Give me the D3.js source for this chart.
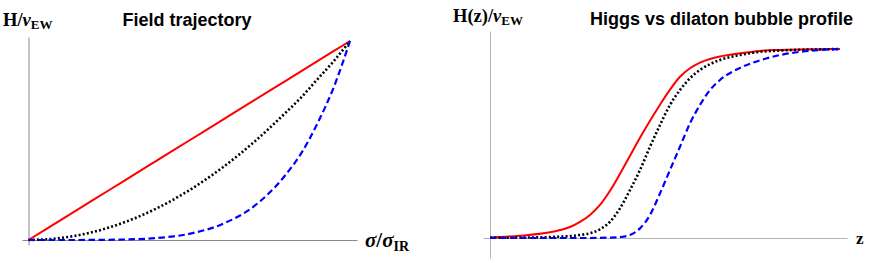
<!DOCTYPE html>
<html><head><meta charset="utf-8">
<script src="https://cdn.jsdelivr.net/npm/d3@7"></script>
<style>body{margin:0;background:#fff}svg{display:block}</style>
</head><body>
<svg id="c" width="872" height="263"></svg>
<script>
// ---- Left panel: field trajectory (sigma/sigma_IR vs H/v_EW)
const sigmaVals = [0, 0.1, 0.2, 0.3, 0.4, 0.5, 0.6, 0.7, 0.8, 0.85, 0.9, 0.95, 1.0];
const trajRed   = [0, 0.1, 0.2, 0.3, 0.4, 0.5, 0.6, 0.7, 0.8, 0.85, 0.9, 0.95, 1.0];
const trajBlack = [0, 0.01, 0.04, 0.09, 0.16, 0.25, 0.36, 0.49, 0.64, 0.72, 0.81, 0.90, 1.0];
const trajBlue  = [0, 0.0, 0.0004, 0.0025, 0.01, 0.031, 0.078, 0.168, 0.328, 0.44, 0.59, 0.77, 1.0];

// ---- Right panel: bubble profile H(z)/v_EW vs z
const zVals        = [0, 3, 6, 7, 8, 9, 10, 11, 12, 13, 14, 15, 16, 17, 18, 19, 20, 21, 22, 23, 25, 27, 29, 31, 33, 35];
const profileRed   = [0.004, 0.012, 0.03, 0.042, 0.058, 0.085, 0.122, 0.175, 0.25, 0.34, 0.435, 0.53, 0.62, 0.705, 0.785, 0.853, 0.898, 0.928, 0.947, 0.96, 0.977, 0.99, 0.995, 0.998, 0.999, 1.0];
const profileBlack = [0.001, 0.002, 0.005, 0.007, 0.01, 0.016, 0.025, 0.046, 0.086, 0.157, 0.254, 0.36, 0.483, 0.598, 0.704, 0.783, 0.845, 0.889, 0.92, 0.942, 0.968, 0.985, 0.992, 0.996, 0.998, 1.0];
const profileBlue  = [0, 0, 0, 0, 0, 0, 0, 0.001, 0.002, 0.005, 0.016, 0.051, 0.122, 0.236, 0.36, 0.483, 0.607, 0.704, 0.783, 0.836, 0.90, 0.94, 0.968, 0.985, 0.995, 1.0];

const svg = d3.select("#c");

const styles = {
  red:   {stroke: "#ff0000", width: 2, dash: null},
  black: {stroke: "#000000", width: 2.6, dash: "2,2.2"},
  blue:  {stroke: "#0000ff", width: 2.2, dash: "6.5,3.5"}
};

function drawLines(g, xs, series, x, y) {
  series.forEach(([vals, st]) => {
    const data = xs.map((v, i) => [v, vals[i]]);
    g.append("path")
      .attr("d", d3.line().x(d => x(d[0])).y(d => y(d[1])).curve(d3.curveMonotoneX)(data))
      .attr("fill", "none")
      .attr("stroke", st.stroke)
      .attr("stroke-width", st.width)
      .attr("stroke-dasharray", st.dash);
  });
}

// Left scales
const xL = d3.scaleLinear().domain([0, 1]).range([28.5, 350]);
const yL = d3.scaleLinear().domain([0, 1]).range([240, 41]);
const gL = svg.append("g");
const xLA = d3.scaleLinear().domain([xL.invert(22), xL.invert(357)]).range([22, 357]);
const yLA = d3.scaleLinear().domain([yL.invert(245), yL.invert(37)]).range([245, 37]);
gL.append("g").attr("transform", `translate(0,${yL(0)})`)
  .call(d3.axisBottom(xLA).tickValues([]).tickSizeOuter(0))
  .select(".domain").attr("stroke", "#8a8a8a").attr("stroke-width", 1);
gL.append("g").attr("transform", `translate(${xL(0)},0)`)
  .call(d3.axisLeft(yLA).tickValues([]).tickSizeOuter(0))
  .select(".domain").attr("stroke", "#8a8a8a").attr("stroke-width", 1);
drawLines(gL, sigmaVals, [[trajRed, styles.red], [trajBlack, styles.black], [trajBlue, styles.blue]], xL, yL);

// Right scales
const xR = d3.scaleLinear().domain([0, 35]).range([490, 840]);
const yR = d3.scaleLinear().domain([0, 1]).range([238, 49]);
const gR = svg.append("g");
const xRA = d3.scaleLinear().domain([xR.invert(483), xR.invert(847)]).range([483, 847]);
const yRA = d3.scaleLinear().domain([yR.invert(258), yR.invert(31)]).range([258, 31]);
gR.append("g").attr("transform", `translate(0,${yR(0)})`)
  .call(d3.axisBottom(xRA).tickValues([]).tickSizeOuter(0))
  .select(".domain").attr("stroke", "#b4b4b4").attr("stroke-width", 1);
gR.append("g").attr("transform", `translate(${xR(0)},0)`)
  .call(d3.axisLeft(yRA).tickValues([]).tickSizeOuter(0))
  .select(".domain").attr("stroke", "#b4b4b4").attr("stroke-width", 1);
drawLines(gR, zVals, [[profileRed, styles.red], [profileBlack, styles.black], [profileBlue, styles.blue]], xR, yR);

// Titles
const sans = "'Liberation Sans', Arial, Helvetica, sans-serif";
const serif = "'Liberation Serif', 'Times New Roman', serif";
svg.append("text").attr("x", 187).attr("y", 26).attr("text-anchor", "middle")
  .attr("font-family", sans).attr("font-weight", "bold").attr("font-size", 18).text("Field trajectory");
svg.append("text").attr("x", 721.5).attr("y", 25).attr("text-anchor", "middle")
  .attr("font-family", sans).attr("font-weight", "bold").attr("font-size", 18).text("Higgs vs dilaton bubble profile");

// Axis labels
function vLabel(x, y, prefix) {
  const t = svg.append("text").attr("x", x).attr("y", y)
    .attr("font-family", serif).attr("font-weight", "bold").attr("font-size", 18.5);
  t.append("tspan").text(prefix);
  t.append("tspan").attr("font-style", "italic").text("v");
  t.append("tspan").attr("font-size", 13).attr("dy", 3).text("EW");
}
vLabel(3, 26, "H/");
vLabel(453, 22, "H(z)/");

const sl = svg.append("text").attr("x", 365).attr("y", 247)
  .attr("font-family", serif).attr("font-weight", "bold").attr("font-size", 21);
sl.append("tspan").attr("font-style", "italic").text("σ");
sl.append("tspan").text("/");
sl.append("tspan").attr("font-style", "italic").text("σ");
sl.append("tspan").attr("font-size", 14).attr("dy", 4).text("IR");

svg.append("text").attr("x", 856).attr("y", 244)
  .attr("font-family", serif).attr("font-weight", "bold").attr("font-size", 17).text("z");
</script>
</body></html>
